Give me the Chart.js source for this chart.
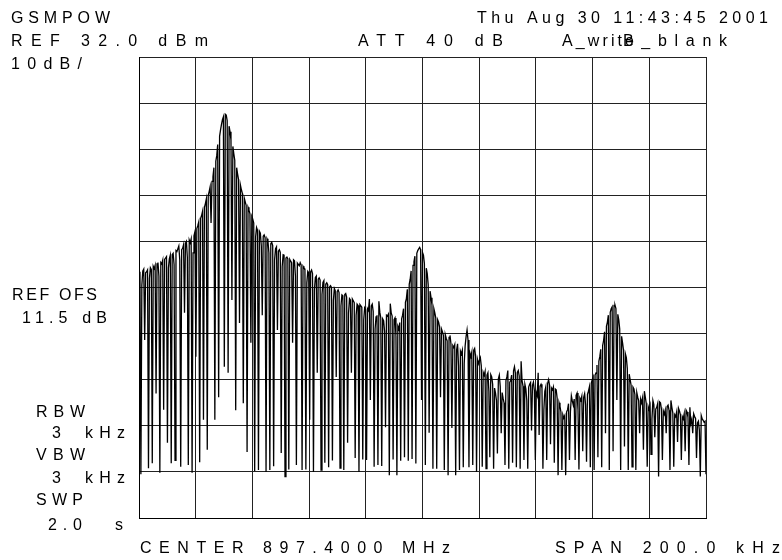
<!DOCTYPE html>
<html>
<head>
<meta charset="utf-8">
<script src="https://cdn.jsdelivr.net/npm/chart.js@4.4.1/dist/chart.umd.min.js"></script>
<style>
  html, body { margin: 0; padding: 0; background: #fff; }
  canvas { display: block; }
</style>
</head>
<body>
<canvas id="specChart" width="782" height="560"></canvas>
<script>
// sweep settings
const spanKHz = 200;

// graticule ticks (dBm / kHz offset from center)
const yTicks = [32, 22, 12, 2, -8, -18, -28, -38, -48, -58, -68];
const xTicks = [-100, -80, -60, -40, -20, 0, 20, 40, 60, 80, 100];

// trace A, dBm (599 sweep points, left to right)
const levels = [
  -15.0,-14.6,-58.5,-17.5,-14.4,-14.0,-29.4,-14.8,-14.6,-14.2,-57.2,-16.0,-13.7,-14.1,-56.1,-13.4,-13.9,-13.2,-41.0,-12.9,
  -12.6,-15.5,-58.2,-12.6,-12.9,-12.1,-44.5,-11.9,-11.6,-11.3,-51.7,-13.8,-11.8,-11.0,-56.1,-10.9,-10.6,-13.0,-55.5,-10.0,
  -10.2,-9.6,-9.0,-12.0,-56.9,-9.8,-9.5,-8.7,-23.5,-8.4,-8.0,-11.5,-56.5,-7.7,-8.3,-7.5,-58.2,-10.5,-6.8,-5.9,
  -33.0,-5.2,-4.6,-3.8,-55.9,-3.0,-2.4,-1.5,-46.7,-0.6,0.2,1.2,-53.2,2.0,2.8,3.8,-4.0,5.0,6.0,8.0,
  -46.7,9.4,10.6,13.0,-41.8,14.8,16.2,17.4,18.4,19.0,-35.2,19.6,19.4,18.2,-36.5,17.0,15.8,14.0,-20.7,12.6,
  11.0,9.6,-44.6,8.0,6.6,5.4,-25.7,4.2,3.2,2.4,-43.1,1.4,0.6,-0.2,-53.7,-0.6,-1.2,-2.0,-30.0,-2.6,
  -3.2,-4.0,-57.8,-7.0,-5.0,-5.6,-57.6,-5.8,-6.2,-9.0,-24.0,-6.9,-6.6,-7.2,-58.0,-7.4,-7.9,-10.5,-57.6,-8.5,
  -8.2,-8.9,-56.8,-12.0,-9.6,-9.2,-27.2,-10.1,-9.8,-10.4,-53.9,-13.5,-10.9,-11.0,-59.0,-11.6,-11.4,-11.8,-57.5,-11.9,
  -12.3,-12.6,-30.0,-12.0,-12.2,-15.5,-56.5,-12.7,-13.0,-13.3,-12.6,-13.1,-57.6,-13.4,-13.8,-14.0,-57.5,-17.0,-14.5,-14.8,
  -46.7,-14.6,-14.2,-15.0,-58.0,-18.5,-15.8,-15.5,-36.5,-16.2,-15.9,-16.4,-57.6,-19.5,-16.9,-16.5,-56.0,-17.3,-17.0,-17.4,
  -57.0,-17.9,-17.6,-18.0,-55.5,-20.8,-18.2,-18.7,-37.4,-18.9,-18.5,-19.1,-57.2,-22.0,-19.6,-19.8,-57.6,-19.5,-19.3,-20.1,
  -51.7,-23.5,-20.4,-20.7,-36.5,-20.5,-20.9,-21.3,-55.0,-24.0,-21.6,-21.9,-58.0,-21.7,-22.0,-22.3,-55.3,-25.0,-22.4,-22.8,
  -55.4,-22.6,-23.0,-20.5,-42.4,-22.0,-21.6,-23.2,-56.9,-27.0,-24.4,-24.0,-56.5,-21.0,-23.4,-24.6,-56.7,-24.8,-25.2,-27.5,
  -48.3,-24.0,-24.2,-23.8,-58.7,-21.5,-23.5,-24.2,-55.3,-25.0,-24.6,-28.5,-58.7,-26.4,-27.0,-25.6,-55.6,-24.8,-24.0,-22.6,
  -54.8,-21.2,-20.4,-18.4,-55.6,-17.3,-16.2,-14.4,-55.2,-13.2,-12.4,-11.2,-56.2,-10.6,-10.0,-9.6,-9.3,-9.8,-42.4,-10.4,
  -11.0,-12.8,-56.5,-13.8,-15.0,-17.4,-49.5,-18.8,-20.2,-21.8,-57.3,-22.6,-23.5,-24.6,-57.3,-25.0,-25.5,-26.6,-41.8,-27.0,
  -27.6,-28.4,-57.6,-28.2,-29.0,-29.6,-58.7,-28.8,-28.4,-30.2,-48.5,-30.6,-31.0,-30.4,-58.7,-31.5,-30.2,-35.0,-57.6,-31.8,
  -32.4,-31.6,-57.0,-34.5,-30.6,-28.6,-27.2,-29.4,-57.0,-32.2,-33.0,-32.0,-56.5,-31.6,-31.2,-33.0,-58.0,-33.6,-34.5,-33.8,
  -33.2,-35.0,-56.9,-36.4,-37.0,-36.2,-57.3,-37.0,-36.5,-40.5,-54.8,-36.9,-37.4,-39.0,-57.3,-39.8,-40.9,-42.5,-54.0,-37.8,
  -37.0,-39.5,-49.6,-40.8,-42.0,-43.0,-56.5,-38.2,-37.4,-36.0,-57.3,-38.6,-38.2,-37.0,-56.0,-36.1,-35.2,-36.6,-57.0,-36.4,
  -36.0,-37.2,-57.3,-34.0,-38.2,-39.4,-55.4,-39.0,-40.0,-42.5,-57.3,-39.6,-39.0,-38.6,-49.0,-39.2,-38.5,-40.4,-55.4,-40.8,
  -41.5,-36.5,-50.0,-39.4,-39.0,-39.8,-57.3,-44.5,-40.5,-39.6,-55.4,-38.8,-38.0,-39.2,-52.0,-39.8,-40.2,-39.6,-56.0,-40.0,
  -40.2,-42.0,-58.7,-43.0,-43.8,-45.0,-57.6,-45.6,-46.3,-45.8,-58.7,-45.0,-44.5,-43.2,-55.4,-45.0,-41.5,-42.6,-43.5,-42.2,
  -55.4,-41.4,-40.9,-44.5,-57.5,-42.0,-42.5,-41.6,-53.5,-41.8,-41.0,-43.5,-55.8,-41.2,-40.5,-39.6,-57.0,-38.8,-38.0,-37.4,
  -57.6,-37.0,-36.5,-34.8,-54.8,-34.0,-33.0,-31.4,-57.0,-30.6,-29.5,-27.6,-49.6,-26.4,-25.5,-24.0,-57.6,-23.4,-22.6,-22.2,
  -53.5,-21.9,-21.8,-22.6,-42.4,-23.8,-25.0,-27.0,-57.6,-28.6,-30.0,-31.6,-52.5,-32.4,-33.2,-35.6,-57.6,-36.8,-38.0,-39.2,
  -56.9,-39.6,-40.0,-41.2,-57.6,-40.8,-41.8,-42.6,-49.6,-42.2,-43.0,-42.0,-53.2,-40.5,-41.8,-43.2,-56.9,-43.8,-44.5,-43.6,
  -54.2,-46.5,-42.5,-43.4,-50.5,-44.4,-44.0,-43.2,-59.0,-42.8,-43.0,-44.4,-55.4,-44.8,-45.5,-44.6,-49.6,-43.8,-43.5,-44.6,
  -57.6,-42.5,-44.0,-45.2,-56.9,-45.6,-46.0,-45.0,-51.5,-44.2,-44.8,-45.6,-55.4,-46.0,-46.5,-45.4,-53.5,-44.6,-45.0,-46.2,
  -56.5,-44.0,-47.5,-46.6,-49.6,-45.4,-46.0,-46.4,-55.0,-47.4,-47.0,-49.0,-59.0,-45.8,-46.5,-46.8,-47.2,-47.0,-58.5
];

// sweep bins are evenly spaced across the span
const freqKHz = levels.map((_, i) => -spanKHz / 2 + i * spanKHz / (levels.length - 1));

// analyzer annotation text (x, baseline y, width to spread over)
const labels = [
  { text: 'GSMPOW', x: 11, y: 23, w: 99 },
  { text: 'Thu Aug 30 11:43:45 2001', x: 477, y: 23, w: 291 },
  { text: 'REF 32.0 dBm', x: 11, y: 45.5, w: 197 },
  { text: 'ATT 40 dB', x: 358, y: 45.5, w: 145 },
  { text: 'A_write', x: 562, y: 45.5, w: 72 },
  { text: 'B_blank', x: 623, y: 45.5, w: 104 },
  { text: '10dB/', x: 11, y: 69, w: 71 },
  { text: 'REF OFS', x: 12, y: 300, w: 85 },
  { text: '11.5 dB', x: 22, y: 323, w: 85 },
  { text: 'RBW', x: 36, y: 417, w: 49 },
  { text: '3', x: 52, y: 438, w: 8 },
  { text: 'kHz', x: 85, y: 438, w: 40 },
  { text: 'VBW', x: 36, y: 460, w: 49 },
  { text: '3', x: 52, y: 483, w: 8 },
  { text: 'kHz', x: 85, y: 483, w: 40 },
  { text: 'SWP', x: 36, y: 505, w: 47 },
  { text: '2.0', x: 48, y: 530, w: 34 },
  { text: 's', x: 115, y: 530, w: 8 },
  { text: 'CENTER 897.4000 MHz', x: 140, y: 553, w: 310 },
  { text: 'SPAN 200.0 kHz', x: 555, y: 553, w: 225 }
];

const screenText = {
  id: 'screenText',
  afterDraw(chart) {
    const c = chart.ctx;
    c.save();
    c.fillStyle = '#000';
    c.font = '16px "Liberation Sans", Arial, sans-serif';
    c.textBaseline = 'alphabetic';
    labels.forEach(l => {
      c.letterSpacing = '0px';
      const w0 = c.measureText(l.text).width;
      const n = l.text.length;
      const sp = n > 1 ? (l.w - w0) / (n - 1) : 0;
      c.letterSpacing = sp + 'px';
      c.fillText(l.text, l.x, l.y);
    });
    c.restore();
  }
};

const ctx = document.getElementById('specChart');
const chart = new Chart(ctx, {
  type: 'line',
  data: {
    datasets: [{
      data: freqKHz.map((f, i) => ({ x: f, y: levels[i] })),
      borderColor: '#000',
      borderWidth: 1.3,
      pointRadius: 0,
      tension: 0,
      fill: false
    }]
  },
  options: {
    responsive: false,
    animation: false,
    devicePixelRatio: 1,
    layout: { padding: { left: 139, right: 76, top: 57, bottom: 42 } },
    plugins: { legend: { display: false }, tooltip: { enabled: false } },
    scales: {
      x: {
        type: 'linear',
        min: xTicks[0],
        max: xTicks[xTicks.length - 1],
        afterBuildTicks: s => { s.ticks = xTicks.map(v => ({ value: v })); },
        ticks: { display: false },
        grid: { color: '#222', lineWidth: 1, drawTicks: false },
        border: { display: true, color: '#000', width: 1 }
      },
      y: {
        type: 'linear',
        min: yTicks[yTicks.length - 1],
        max: yTicks[0],
        afterBuildTicks: s => { s.ticks = yTicks.map(v => ({ value: v })); },
        ticks: { display: false },
        grid: { color: '#222', lineWidth: 1, drawTicks: false },
        border: { display: true, color: '#000', width: 1 }
      }
    }
  },
  plugins: [screenText]
});
</script>
</body>
</html>
